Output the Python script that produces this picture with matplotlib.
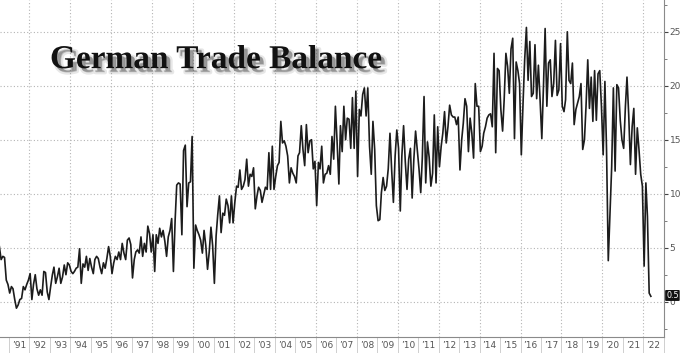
import matplotlib
matplotlib.use("Agg")
import matplotlib.pyplot as plt
import matplotlib.dates as mdates
import matplotlib.patheffects as pe
from matplotlib.ticker import MultipleLocator, NullFormatter
import pandas as pd

# monthly German trade balance (bn), Jul 1990 - May 2022
balance_1990s = [
    5.1, 3.9, 4.2, 4.1, 2.0, 1.6,                                   # 1990 (Jul-Dec)
    0.8, 1.4, 1.2, 0.2, -0.6, -0.3, 0.2, 0.3, 1.4, 1.1, 1.6, 2.0,   # 1991
    2.6, 0.2, 1.6, 2.5, 1.2, 0.6, 1.1, 0.6, 2.8, 2.7, 0.9, 0.2,     # 1992
    1.4, 2.5, 3.2, 1.7, 2.3, 3.1, 1.7, 2.3, 3.4, 2.5, 3.6, 3.4,     # 1993
    2.8, 2.6, 2.8, 3.1, 3.2, 4.9, 1.7, 3.5, 3.2, 4.2, 2.9, 4.0,     # 1994
    3.2, 2.6, 3.9, 4.2, 4.0, 3.2, 2.6, 3.6, 3.1, 4.0, 5.1, 4.2,     # 1995
    2.6, 3.6, 4.2, 3.9, 4.6, 3.9, 5.4, 4.5, 3.9, 5.7, 5.9, 5.3,     # 1996
    2.2, 3.9, 4.6, 4.8, 4.5, 6.0, 4.2, 5.4, 4.6, 7.0, 6.3, 4.6,     # 1997
    6.2, 2.8, 6.2, 5.4, 6.8, 6.0, 6.6, 5.6, 4.2, 6.0, 6.6, 7.7,     # 1998
    2.8, 7.6, 10.8, 11.0, 10.9, 6.2, 14.0, 14.5, 8.8, 11.0, 11.1, 15.3,  # 1999
]
balance_2000s = [
    3.1, 7.1, 6.6, 6.2, 5.7, 4.5, 6.6, 5.2, 3.0, 4.6, 6.9, 5.2,          # 2000
    1.7, 6.1, 8.0, 9.8, 6.4, 8.2, 8.0, 9.5, 8.9, 7.3, 9.8, 7.3,          # 2001
    9.2, 10.7, 10.6, 12.2, 10.4, 10.7, 11.3, 13.2, 10.7, 11.8, 11.6, 12.4,  # 2002
    8.6, 9.8, 10.6, 10.3, 9.2, 9.9, 10.6, 10.4, 13.8, 10.4, 14.4, 10.4,  # 2003
    11.6, 12.6, 12.9, 16.7, 14.7, 14.9, 14.4, 13.5, 11.0, 12.4, 11.9, 11.6,  # 2004
    11.0, 13.5, 13.8, 16.3, 14.1, 12.6, 16.4, 13.8, 14.9, 15.0, 12.3, 13.0,  # 2005
    8.9, 12.9, 12.3, 14.4, 11.0, 11.8, 11.9, 12.6, 11.8, 15.3, 13.2, 18.1,  # 2006
    14.7, 10.9, 16.3, 13.9, 18.1, 15.0, 17.0, 16.9, 14.2, 18.9, 14.2, 19.5,  # 2007
    11.6, 17.8, 17.2, 19.2, 19.8, 17.2, 19.8, 14.4, 11.8, 16.7, 14.1, 8.9,  # 2008
    7.5, 7.6, 10.1, 11.5, 10.3, 10.7, 12.3, 15.6, 12.1, 9.2, 13.5, 15.9,  # 2009
]
balance_2010s = [
    14.2, 8.4, 13.5, 16.3, 13.0, 10.4, 13.2, 14.2, 9.6, 13.2, 15.8, 14.1,  # 2010
    12.3, 10.1, 13.3, 19.0, 11.0, 14.8, 13.4, 10.7, 11.9, 17.3, 11.0, 16.2,  # 2011
    12.5, 14.4, 15.6, 17.6, 14.7, 16.2, 18.2, 17.3, 17.1, 17.1, 16.4, 17.1,  # 2012
    12.2, 15.0, 16.5, 18.8, 18.1, 13.9, 17.0, 15.6, 13.3, 20.2, 18.1, 18.1,  # 2013
    13.9, 14.4, 15.6, 16.2, 17.0, 17.3, 17.4, 16.2, 23.0, 13.8, 21.6, 21.4,  # 2014
    17.8, 15.8, 18.7, 23.0, 21.8, 19.3, 23.4, 24.4, 15.1, 22.2, 21.4, 20.2,  # 2015
    13.6, 18.4, 22.4, 25.4, 20.5, 24.1, 19.0, 19.3, 23.8, 18.8, 21.9, 18.7,  # 2016
    15.1, 20.2, 25.3, 18.1, 22.1, 22.4, 19.0, 20.2, 24.2, 19.1, 19.6, 23.9,  # 2017
    18.1, 17.6, 18.7, 25.0, 20.5, 20.2, 22.1, 16.4, 17.8, 18.4, 19.0, 20.2,  # 2018
    14.1, 15.0, 18.1, 22.4, 17.9, 20.8, 16.7, 21.4, 16.8, 21.1, 21.4, 18.1,  # 2019
]
balance_2020s = [
    13.6, 20.4, 14.1, 3.8, 8.0, 12.5, 19.8, 12.1, 20.1, 19.8, 16.8, 15.0,  # 2020
    14.2, 18.1, 20.8, 17.3, 12.7, 16.2, 17.9, 11.8, 16.1, 14.1, 11.8, 10.7,  # 2021
    3.3, 11.0, 7.9, 0.8, 0.5,                                              # 2022 (Jan-May)
]

first_month = "1990-07-01"
y_ticks = [0, 5, 10, 15, 20, 25]
chart_title = "German Trade Balance"
last_label = "0.5"

balance = balance_1990s + balance_2000s + balance_2010s + balance_2020s
dates = pd.date_range(first_month, periods=len(balance), freq="MS") + pd.Timedelta(days=14)

fig = plt.figure(figsize=(6.8, 3.53), dpi=100)
ax = fig.add_axes([0.0, 0.0453, 0.9765, 0.9547])

grid_style = dict(color="#b4b4b4", linestyle=(0, (1, 2)), linewidth=0.8)

# dotted vertical grid every second year
for yr in range(1992, 2023, 2):
    ax.axvline(pd.Timestamp(f"{yr}-01-01"), zorder=0, **grid_style)

ax.plot(dates, balance, color="#1c1c1c", linewidth=1.2, zorder=2)

ax.set_xlim(pd.Timestamp("1990-07-26"), pd.Timestamp("2023-01-05"))
ax.set_ylim(-3.27, 27.94)

# y axis on the right
ax.yaxis.tick_right()
ax.set_yticks(y_ticks)
ax.yaxis.set_minor_locator(MultipleLocator(2.5))
ax.tick_params(axis="y", which="major", length=3, width=0.8, color="#444",
               labelsize=6.5, labelcolor="#555", pad=1)
ax.tick_params(axis="y", which="minor", length=2, width=0.6, color="#666")
ax.grid(axis="y", which="major", **grid_style)
ax.set_axisbelow(True)

# x axis: long separators at year starts, labels in the middle of the year
ax.xaxis.set_major_locator(mdates.YearLocator())
ax.xaxis.set_major_formatter(NullFormatter())
ax.xaxis.set_minor_locator(mdates.MonthLocator(bymonth=7))
ax.xaxis.set_minor_formatter(mdates.DateFormatter("\u2019%y"))
ax.tick_params(axis="x", which="major", length=12, width=0.6, color="#c8c8c8", direction="out")
ax.tick_params(axis="x", which="minor", length=0, labelsize=6.5, labelcolor="#555", pad=3)

for side in ["left", "top"]:
    ax.spines[side].set_visible(False)
for side in ["right", "bottom"]:
    ax.spines[side].set_color("#8a8a8a")
    ax.spines[side].set_linewidth(0.8)

# last value marker on the right axis
ax.annotate(last_label, xy=(1.0, balance[-1]), xycoords=("axes fraction", "data"),
            xytext=(1.5, 0.6), textcoords="offset points", ha="left", va="center",
            fontsize=5.8, color="white", annotation_clip=False, zorder=5,
            bbox=dict(boxstyle="round,pad=0.12", fc="#111111", ec="none"))

# title with a soft drop shadow
fig.text(0.0735, 0.807, chart_title, fontsize=24, fontweight="bold",
         family="Liberation Serif", color="#111111", va="baseline",
         path_effects=[pe.Stroke(offset=(3, -3), linewidth=3, foreground="#888888", alpha=0.2),
                       pe.SimplePatchShadow(offset=(2.5, -2.5), shadow_rgbFace="#444444", alpha=0.35),
                       pe.Normal()])

fig.savefig("out.png", dpi=100, facecolor="white")
